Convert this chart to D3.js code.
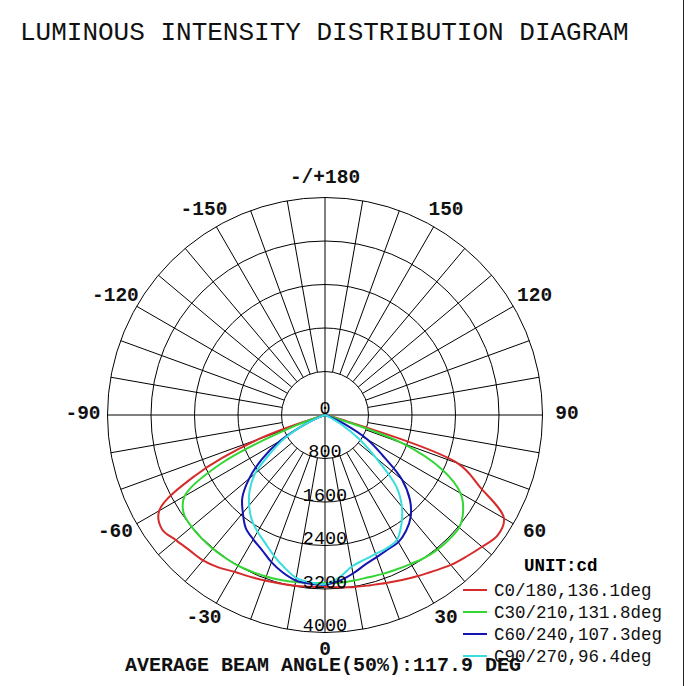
<!DOCTYPE html>
<html>
<head>
<meta charset="utf-8">
<script src="https://cdn.jsdelivr.net/npm/d3@7"></script>
<style>
    body { margin: 0; background: #fff; }
    svg { display: block; font-family: "Liberation Mono", "Courier New", monospace; }
</style>
</head>
<body>
<svg></svg>
<script>
const width = 688;
const height = 686;
const cx = 325;
const cy = 415;
const outerR = 217.5;

// gamma angles, degrees (0 = down, positive to the right)
const gammaAngles = [-90, -85, -80, -75, -70, -65, -60, -55, -50, -45, -40, -35, -30, -25, -20, -15, -10, -5,
    0, 5, 10, 15, 20, 25, 30, 35, 40, 45, 50, 55, 60, 65, 70, 75, 80, 85, 90];

// intensity, cd
const c0Values = [0, 0, 0, 0, 1300, 2630, 3520, 3660, 3580, 3520, 3490, 3420, 3330, 3280, 3240, 3210, 3190, 3170,
    3165, 3180, 3210, 3240, 3290, 3350, 3420, 3500, 3600, 3680, 3770, 3870, 3800, 3150, 2600, 250, 0, 0, 0];
const c30Values = [0, 0, 0, 0, 600, 2100, 2980, 3170, 3200, 3210, 3210, 3205, 3200, 3180, 3160, 3140, 3120, 3100,
    3090, 3095, 3090, 3090, 3110, 3130, 3160, 3200, 3225, 3230, 3220, 3100, 2880, 2380, 1500, 100, 0, 0, 0];
const c60Values = [0, 0, 0, 0, 100, 400, 950, 1420, 1820, 2150, 2350, 2540, 2640, 2740, 2880, 3000, 3090, 3115,
    3120, 3060, 2960, 2850, 2780, 2730, 2700, 2600, 2450, 2210, 1850, 1290, 900, 400, 100, 0, 0, 0, 0];
const c90Values = [0, 0, 0, 0, 100, 400, 850, 1230, 1680, 1960, 2170, 2350, 2480, 2600, 2750, 2900, 3040, 3090,
    3110, 3000, 2830, 2760, 2720, 2700, 2650, 2450, 2200, 1850, 1220, 760, 350, 100, 0, 0, 0, 0, 0];

const seriesNames = ["C0/180,136.1deg", "C30/210,131.8deg", "C60/240,107.3deg", "C90/270,96.4deg"];
const seriesColors = ["#d62b2b", "#33d633", "#1414b0", "#38dede"];
const seriesValues = [c0Values, c30Values, c60Values, c90Values];

const ringValues = [800, 1600, 2400, 3200, 4000];
const ringLabels = ["0", "800", "1600", "2400", "3200", "4000"];
const angleTicks = [0, 30, 60, 90, 120, 150, 180, -150, -120, -90, -60, -30];
const angleLabels = ["0", "30", "60", "90", "120", "150", "-/+180", "-150", "-120", "-90", "-60", "-30"];

let svg = d3.select("svg")
    .attr("width", width)
    .attr("height", height);

let rScale = d3.scaleLinear()
    .domain([0, 4000])
    .range([0, outerR]);

// gamma -> d3 radial angle (clockwise from top)
const toAngle = g => Math.PI - g * Math.PI / 180;

// рамка справа
svg.append("line")
    .attr("x1", 683.5).attr("x2", 683.5)
    .attr("y1", 0).attr("y2", height)
    .attr("stroke", "#222")
    .attr("stroke-width", 1);

// заголовок
svg.append("text")
    .attr("x", 20)
    .attr("y", 40)
    .style("font-size", "26px")
    .attr("fill", "#111")
    .text("LUMINOUS INTENSITY DISTRIBUTION DIAGRAM");

let plot = svg.append("g")
    .attr("transform", `translate(${cx}, ${cy})`);

// сетка: окружности
plot.selectAll(".ring")
    .data(ringValues)
    .enter()
    .append("circle")
    .attr("r", d => rScale(d))
    .attr("fill", "none")
    .attr("stroke", "#000")
    .attr("stroke-width", 1);

// радиальные линии через 10 градусов
plot.selectAll(".spoke")
    .data(d3.range(-170, 181, 10))
    .enter()
    .append("line")
    .attr("x1", d => rScale(d % 90 === 0 ? 0 : 800) * Math.sin(toAngle(d)))
    .attr("y1", d => -rScale(d % 90 === 0 ? 0 : 800) * Math.cos(toAngle(d)))
    .attr("x2", d => rScale(4000) * Math.sin(toAngle(d)))
    .attr("y2", d => -rScale(4000) * Math.cos(toAngle(d)))
    .attr("stroke", "#000")
    .attr("stroke-width", 1);

// кривые силы света
let line = d3.lineRadial()
    .angle(d => toAngle(d[0]))
    .radius(d => rScale(d[1]))
    .curve(d3.curveCatmullRom.alpha(0.5));

seriesValues.forEach((vals, i) => {
    plot.append("path")
        .datum(gammaAngles.map((g, j) => [g, vals[j]]))
        .attr("d", line)
        .attr("fill", "none")
        .attr("stroke", seriesColors[i])
        .attr("stroke-width", 2);
});

// подписи колец
plot.selectAll(".ringLabel")
    .data(ringLabels)
    .enter()
    .append("text")
    .attr("x", 0)
    .attr("y", d => rScale(+d) - 1.5)
    .attr("text-anchor", "middle")
    .style("font-size", "18.5px")
    .attr("fill", "#000")
    .text(d => d);

// подписи углов
plot.selectAll(".angleLabel")
    .data(angleTicks)
    .enter()
    .append("text")
    .attr("x", d => 242 * Math.sin(toAngle(d)))
    .attr("y", d => -236 * Math.cos(toAngle(d)) - 1)
    .attr("text-anchor", "middle")
    .attr("dominant-baseline", "central")
    .style("font-size", "19.5px")
    .style("font-weight", "bold")
    .attr("fill", "#111")
    .text((d, i) => angleLabels[i]);

// легенда
svg.append("text")
    .attr("x", 524)
    .attr("y", 571)
    .style("font-size", "17.5px")
    .style("font-weight", "bold")
    .text("UNIT:cd");

let legend = svg.selectAll(".legend")
    .data(seriesNames)
    .enter()
    .append("g")
    .attr("transform", (d, i) => `translate(463, ${590 + i * 22})`);

legend.append("line")
    .attr("x1", 0).attr("x2", 24)
    .attr("y1", 0).attr("y2", 0)
    .attr("stroke", (d, i) => seriesColors[i])
    .attr("stroke-width", 2);

legend.append("text")
    .attr("x", 31)
    .attr("y", 5.5)
    .style("font-size", "17.5px")
    .attr("fill", "#111")
    .text(d => d);

// средний угол луча
svg.append("text")
    .attr("x", 125)
    .attr("y", 671)
    .style("font-size", "20px")
    .style("font-weight", "bold")
    .attr("fill", "#111")
    .text("AVERAGE BEAM ANGLE(50%):117.9 DEG");
</script>
</body>
</html>
